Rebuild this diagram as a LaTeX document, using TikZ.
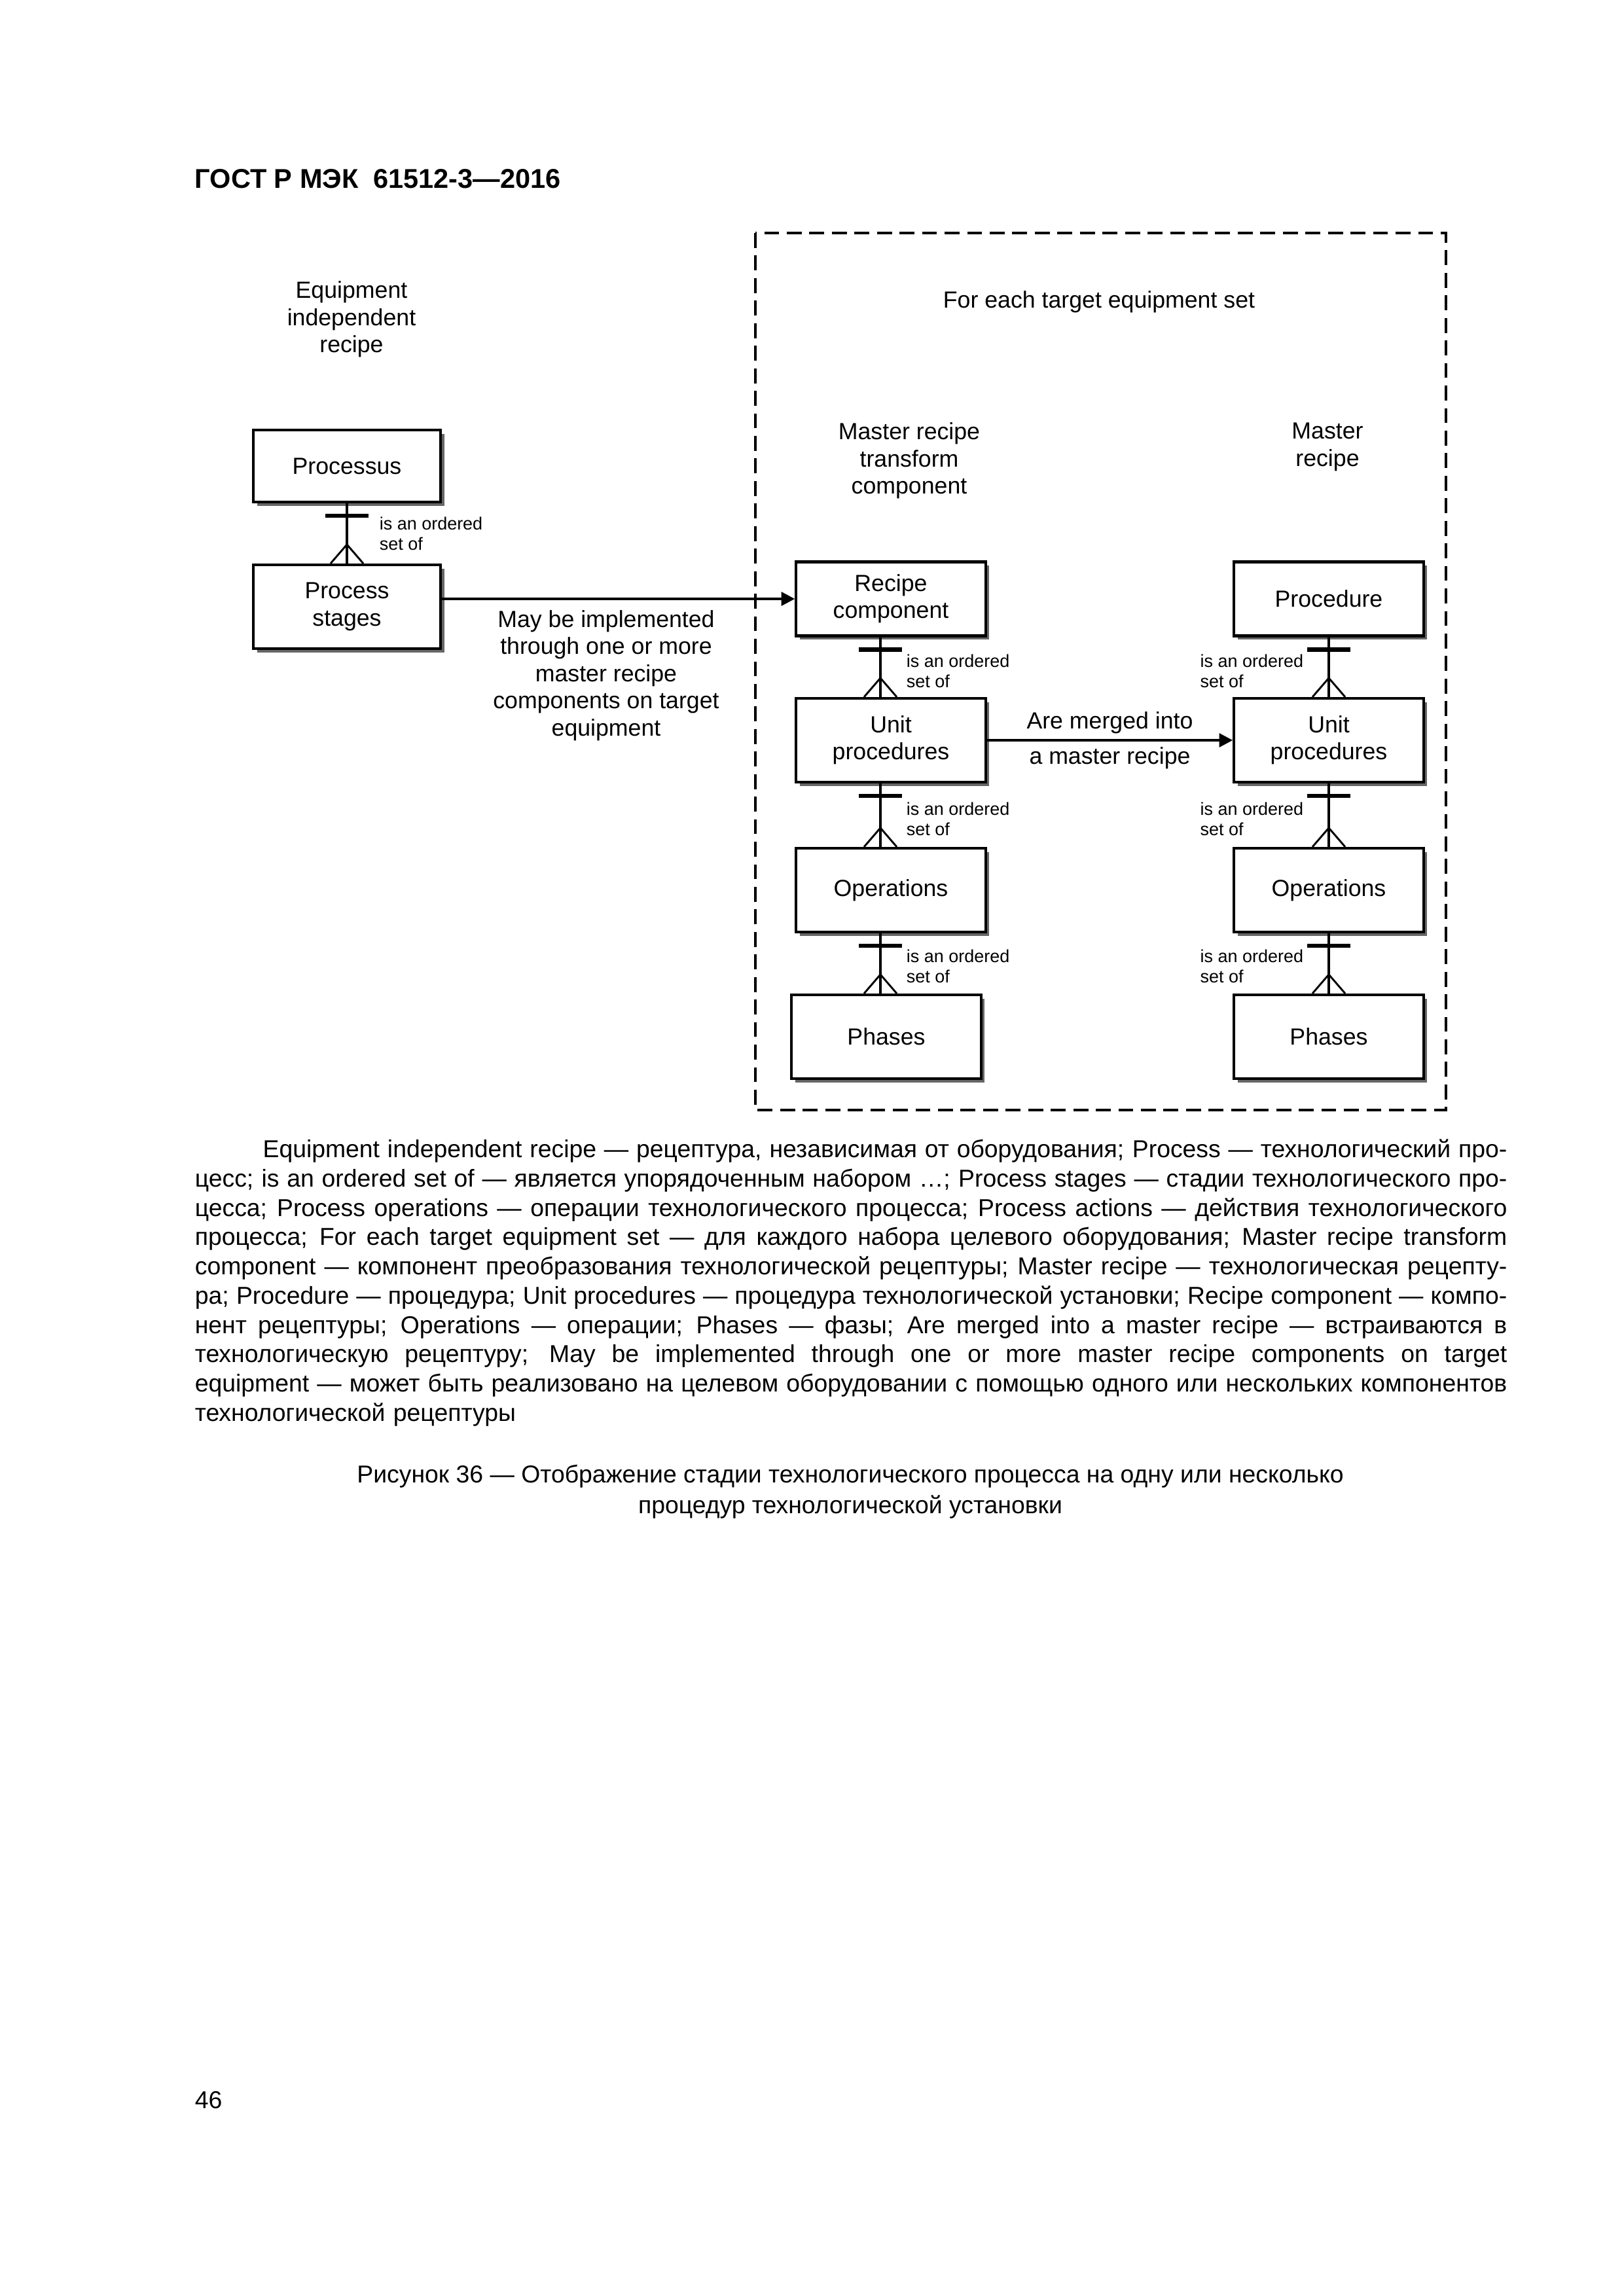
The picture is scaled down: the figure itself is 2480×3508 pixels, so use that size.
\documentclass[tikz,border=0pt]{standalone}
\usepackage{fontspec}
\setmainfont{Liberation Sans}
\usetikzlibrary{calc,arrows.meta,shadows}
\newcommand\diagfont{\fontsize{8.6}{10}\selectfont}
\newcommand\bodyline[1]{\leavevmode\hbox to 483pt{\spaceskip=.278em plus .5em minus .1em\relax #1}}
\def\ordset[#1](#2)(#3)(#4:#5:#6){%
	\path (#2.south -| #4) coordinate (#1a) (#3.north -| #4) coordinate (#1b);
	\draw[link] (#1a) -- (#1b);
	\draw[bar] ($(#1a)+(-33,19)$) -- ($(#1a)+(33,19)$);
	\draw[foot] ($(#1b)+(-25,0)$) -- ($(#1b)+(0,-29)$) -- ($(#1b)+(25,0)$);
	\node[ordlbl,anchor=#5] (#1) at ($(#1a)!0.5!(#1b)+(#6)$) {is an ordered\\set of};}

\begin{document}
\begin{tikzpicture}[x=0.0084677cm, y=-0.0084677cm,
	box/.style={draw, line width=1pt, fill=white, minimum width=2.45cm, inner sep=2pt, align=center, font=\diagfont,
		drop shadow={shadow xshift=1.4pt, shadow yshift=-1.4pt, fill=black!60, opacity=1}},
	lbl/.style={align=center, inner sep=0pt, font=\diagfont},
	ordlbl/.style={align=left, inner sep=0pt, font=\fontsize{6.5}{7.5}\selectfont},
	link/.style={line width=1pt},
	bar/.style={line width=1.6pt},
	foot/.style={line width=0.7pt},
	arr/.style={line width=1pt, -{Triangle[length=5pt,width=5pt]}},
	frame/.style={line width=1pt, dash pattern=on 5.5pt off 2.8pt},
	legend/.style={inner sep=0pt, font=\fontsize{9}{10.78}\selectfont}]
			%%%%% START %%%%%
			
			\useasboundingbox (0,0) rectangle (2480,3508);
			
			\node[anchor=west, inner sep=0pt, font=\bfseries\fontsize{10}{12}\selectfont] (hdr) at (297,273) {ГОСТ Р МЭК~~61512-3—2016};
			
			\draw[frame] (1154,356) rectangle (2209,1696);
			
			\node[lbl] (eir) at (537,488) {Equipment\\independent\\recipe};
			\node[lbl] (fets) at (1679,461) {For each target equipment set};
			\node[lbl] (mrtc) at (1389,704) {Master recipe\\transform\\component};
			\node[lbl] (mr) at (2028,683) {Master\\recipe};
			
			\node[box, minimum width=2.42cm, minimum height=0.93cm] (proc) at (530,712) {Processus};
			\node[box, minimum width=2.42cm, minimum height=1.084cm] (pst) at (530,927) {Process\\stages};
			
			\node[box, minimum height=0.957cm] (rcomp) at (1361,915) {Recipe\\component};
			\node[box, minimum height=1.084cm] (upl) at (1361,1131) {Unit\\procedures};
			\node[box, minimum height=1.084cm] (opl) at (1361,1360) {Operations};
			\node[box, minimum height=1.084cm] (phl) at (1354,1584) {Phases};
			
			\node[box, minimum height=0.957cm] (procd) at (2030,915) {Procedure};
			\node[box, minimum height=1.084cm] (upr) at (2030,1131) {Unit\\procedures};
			\node[box, minimum height=1.084cm] (opr) at (2030,1360) {Operations};
			\node[box, minimum height=1.084cm] (phr) at (2030,1584) {Phases};
			
			\coordinate (pcol) at (530,0);
			\coordinate (lcol) at (1345,0);
			\coordinate (rcol) at (2030,0);
			
			\ordset[os1](proc)(pst)(pcol:west:49,0)
			\ordset[os2](rcomp)(upl)(lcol:west:39,6)
			\ordset[os3](upl)(opl)(lcol:west:39,6)
			\ordset[os4](opl)(phl)(lcol:west:39,4)
			\ordset[os5](procd)(upr)(rcol:east:-38,6)
			\ordset[os6](upr)(opr)(rcol:east:-38,6)
			\ordset[os7](opr)(phr)(rcol:east:-38,4)
			
			\draw[arr] (pst.east |- rcomp.west) -- (rcomp.west);
			\node[lbl] (impl) at (926,1032) {May be implemented\\through one or more\\master recipe\\components on target\\equipment};
			
			\draw[arr] (upl.east) -- (upr.west)
				node[lbl, midway, above=2pt] (merg) {Are merged into}
				node[lbl, midway, below=2pt] (merg2) {a master recipe};
			
			\node[legend, anchor=north west, text width=483pt, align=left] (legend) at (297,1740) {%
				\bodyline{\hspace*{25pt}Equipment independent recipe — рецептура, независимая от оборудования; Process — технологический про-}\\
				\bodyline{цесс; is an ordered set of — является упорядоченным набором …; Process stages — стадии технологического про-}\\
				\bodyline{цесса; Process operations — операции технологического процесса; Process actions — действия технологического}\\
				\bodyline{процесса; For each target equipment set — для каждого набора целевого оборудования; Master recipe transform}\\
				\bodyline{component — компонент преобразования технологической рецептуры; Master recipe — технологическая рецепту-}\\
				\bodyline{ра; Procedure — процедура; Unit procedures — процедура технологической установки; Recipe component — компо-}\\
				\bodyline{нент рецептуры; Operations — операции; Phases — фазы; Are merged into a master recipe — встраиваются в}\\
				\bodyline{технологическую рецептуру; May be implemented through one or more master recipe components on target}\\
				\bodyline{equipment — может быть реализовано на целевом оборудовании с помощью одного или нескольких компонентов}\\
				технологической рецептуры};
			
			\node[legend, align=center, font=\fontsize{9}{11.3}\selectfont] (cap) at (1299,2279) {Рисунок 36 — Отображение стадии технологического процесса на одну или несколько\\процедур технологической установки};
			
			\node[anchor=west, inner sep=0pt, font=\fontsize{9}{11}\selectfont] (pnum) at (297,3209) {46};
			
			%%%%% END %%%%%
\end{tikzpicture}
\end{document}
